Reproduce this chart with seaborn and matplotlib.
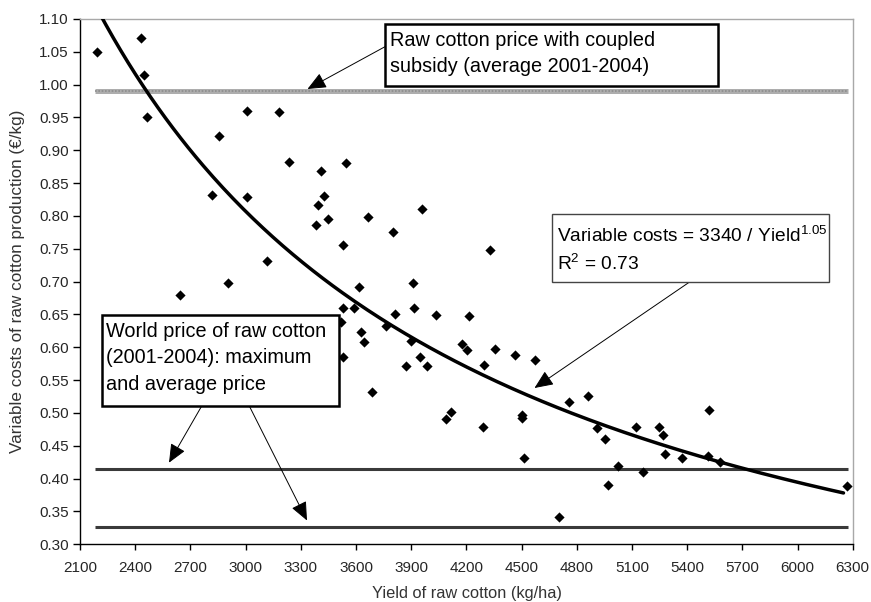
import numpy as np
import pandas as pd
import matplotlib
matplotlib.use("Agg")
import matplotlib.pyplot as plt
from matplotlib.patches import Rectangle
import seaborn as sns

# ---------------- data ----------------
yield_kg_ha = [2190, 2433, 2448, 2462, 2644, 2817, 2857, 2904, 3009, 3009,
               3115, 3180, 3238, 3381, 3393, 3410, 3428, 3446, 3517, 3527,
               3531, 3531, 3546, 3592, 3619, 3630, 3644, 3666, 3685, 3762,
               3800, 3813, 3870, 3898, 3911, 3917, 3948, 3958, 3985, 4037,
               4090, 4116, 4174, 4203, 4215, 4288, 4296, 4330, 4356, 4466,
               4505, 4505, 4512, 4575, 4706, 4756, 4861, 4912, 4954, 4972,
               5023, 5122, 5159, 5247, 5267, 5280, 5372, 5512, 5519, 5579,
               6267]
cost_eur_kg = [1.049, 1.071, 1.015, 0.950, 0.680, 0.832, 0.922, 0.698, 0.960, 0.829,
               0.732, 0.959, 0.882, 0.786, 0.816, 0.868, 0.830, 0.796, 0.639, 0.756,
               0.660, 0.585, 0.881, 0.660, 0.692, 0.624, 0.608, 0.799, 0.532, 0.632,
               0.776, 0.651, 0.572, 0.610, 0.698, 0.660, 0.585, 0.810, 0.572, 0.649,
               0.491, 0.502, 0.605, 0.596, 0.647, 0.478, 0.573, 0.748, 0.598, 0.588,
               0.497, 0.492, 0.431, 0.580, 0.342, 0.516, 0.526, 0.477, 0.460, 0.390,
               0.420, 0.479, 0.410, 0.479, 0.466, 0.438, 0.432, 0.435, 0.504, 0.425,
               0.389]

subsidy_price = 0.99          # raw cotton price with coupled subsidy
world_price_max = 0.415       # world price, maximum
world_price_avg = 0.327       # world price, average
price_line_span = [2180, 6275]

# power trend line as drawn: cost = coef / yield ** exponent
trend_coef = 3154.0
trend_exp = 1.033
trend_span = [2200, 6250]

x_ticks = [2100, 2400, 2700, 3000, 3300, 3600, 3900, 4200, 4500, 4800,
           5100, 5400, 5700, 6000, 6300]
y_ticks = [0.30, 0.35, 0.40, 0.45, 0.50, 0.55, 0.60, 0.65, 0.70, 0.75,
           0.80, 0.85, 0.90, 0.95, 1.00, 1.05, 1.10]

x_label = "Yield of raw cotton (kg/ha)"
y_label = "Variable costs of raw cotton production (\u20ac/kg)"
box1_lines = ["Raw cotton price with coupled", "subsidy (average 2001-2004)"]
box2_lines = ["World price of raw cotton", "(2001-2004): maximum", "and average price"]
box3_lines = ["Variable costs = 3340 / Yield$^{1.05}$", "R$^{2}$ = 0.73"]

# ---------------- style ----------------
sns.set_theme(style="ticks")
plt.rcParams["font.family"] = ["Liberation Sans", "DejaVu Sans"]
plt.rcParams["mathtext.fontset"] = "custom"
plt.rcParams["mathtext.rm"] = "Liberation Sans"
plt.rcParams["mathtext.it"] = "Liberation Sans:italic"
plt.rcParams["mathtext.bf"] = "Liberation Sans:bold"

W, H = 871, 602
fig = plt.figure(figsize=(W / 100, H / 100), dpi=100)
fig.patch.set_facecolor("white")

ax_l, ax_r, ax_t, ax_b = 80, 852.7, 19, 544.3
ax = fig.add_axes([ax_l / W, 1 - ax_b / H, (ax_r - ax_l) / W, (ax_b - ax_t) / H])
ax.set_facecolor("white")


def fig_xy(px, py):
    return px / W, 1 - py / H


# price lines
ax.hlines(subsidy_price, price_line_span[0], price_line_span[1],
          colors="#adadad", linewidth=3.6, zorder=2)
ax.hlines(subsidy_price, price_line_span[0], price_line_span[1],
          colors="#8c8c8c", linewidth=1.2, linestyles=(0, (1, 1)), zorder=2)
for lvl in (world_price_max, world_price_avg):
    ax.hlines(lvl, price_line_span[0], price_line_span[1],
              colors="#3a3a3a", linewidth=2.2, zorder=2)

# trend line
trend_x = np.linspace(trend_span[0], trend_span[1], 300)
trend_df = pd.DataFrame({"x": trend_x, "y": trend_coef / trend_x ** trend_exp})
sns.lineplot(data=trend_df, x="x", y="y", ax=ax, color="black",
             linewidth=2.5, zorder=3, sort=False)

# scatter
pts = pd.DataFrame({"yield": yield_kg_ha, "cost": cost_eur_kg})
sns.scatterplot(data=pts, x="yield", y="cost", ax=ax, marker="D", s=27,
                color="black", linewidth=0, zorder=4)

# axes
ax.set_xlim(x_ticks[0], x_ticks[-1])
ax.set_ylim(y_ticks[0], y_ticks[-1])
ax.set_xticks(x_ticks)
ax.set_yticks(y_ticks)
ax.set_xticklabels([str(t) for t in x_ticks])
ax.set_yticklabels([f"{t:.2f}" for t in y_ticks])
ax.tick_params(axis="both", direction="out", length=5, width=1, color="black",
               labelsize=11, labelcolor="#262626", pad=3)
ax.tick_params(axis="x", length=4, pad=8)
for side in ("left", "bottom"):
    ax.spines[side].set_color("black")
    ax.spines[side].set_linewidth(1.0)
for side in ("top", "right"):
    ax.spines[side].set_visible(True)
    ax.spines[side].set_color("#a8a8a8")
    ax.spines[side].set_linewidth(1.0)
ax.grid(False)

ax.set_xlabel(x_label, fontsize=11.8, color="#333333")
ax.set_ylabel(y_label, fontsize=12.3, color="#333333")
ax.xaxis.set_label_coords(0.5005, -0.079)
ax.yaxis.set_label_coords(-0.0712, 0.5)


# annotation boxes (pixel layout)
def draw_box(x0, y0, x1, y1, lw, ec):
    fx0, fy1 = fig_xy(x0, y1)
    rect = Rectangle((fx0, fy1), (x1 - x0) / W, (y1 - y0) / H,
                     transform=fig.transFigure, facecolor="white",
                     edgecolor=ec, linewidth=lw, zorder=10)
    fig.add_artist(rect)


def draw_lines(px, baselines, lines, size):
    for py, s in zip(baselines, lines):
        fx, fy = fig_xy(px, py)
        fig.text(fx, fy, s, fontsize=size, color="black", ha="left",
                 va="baseline", zorder=11)


def draw_arrow(start, end):
    ax.annotate("", xy=fig_xy(*end), xycoords="figure fraction",
                xytext=fig_xy(*start), textcoords="figure fraction",
                arrowprops=dict(arrowstyle="-|>,head_length=1.15,head_width=0.5",
                                color="black", linewidth=0.7,
                                shrinkA=0, shrinkB=0, mutation_scale=10),
                zorder=9, annotation_clip=False)


draw_arrow((385, 46.7), (307.5, 89))
draw_arrow((201.7, 406), (169, 462.7))
draw_arrow((249.3, 406), (307, 520.5))
draw_arrow((690, 281.7), (534.5, 388))

draw_box(385, 23.7, 718, 85.7, 1.8, "black")
draw_lines(390, [45.7, 72.3], box1_lines, 14.3)

draw_box(102, 315, 339, 406, 1.8, "black")
draw_lines(106, [336.7, 363.3, 390], box2_lines, 14.3)

draw_box(552, 214, 829, 282, 1.0, "#444444")
draw_lines(557, [241.7, 270], box3_lines, 13.8)

fig.savefig("out.png", dpi=100, facecolor="white")
